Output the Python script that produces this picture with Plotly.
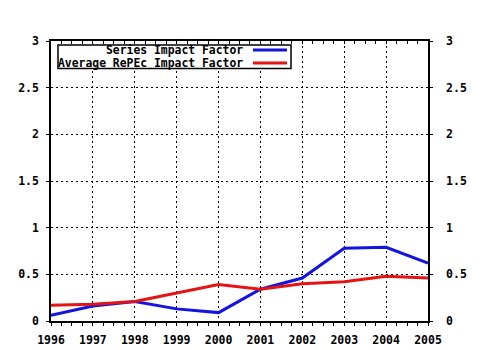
import plotly.graph_objects as go

years = [1996, 1997, 1998, 1999, 2000, 2001, 2002, 2003, 2004, 2005]
series_if = [0.06, 0.16, 0.21, 0.13, 0.09, 0.34, 0.46, 0.78, 0.79, 0.62]
average_if = [0.17, 0.18, 0.21, 0.30, 0.39, 0.34, 0.40, 0.42, 0.48, 0.46]
names = ["Series Impact Factor", "Average RePEc Impact Factor"]
colors = ["#1414e0", "#e41414"]

FONT = "DejaVu Sans Mono"
tf = dict(family=FONT, size=11.5, color="black", weight="bold")

fig = go.Figure()
for vals, nm, c in zip([series_if, average_if], names, colors):
    fig.add_trace(go.Scatter(x=years, y=vals, mode="lines", name=nm,
                             line=dict(color=c, width=3), showlegend=False))
# invisible trace to activate secondary axes
fig.add_trace(go.Scatter(x=years, y=series_if, xaxis="x2", yaxis="y2",
                         mode="lines", line=dict(width=0), opacity=0,
                         showlegend=False, hoverinfo="skip"))

grid = dict(showgrid=True, gridcolor="black", gridwidth=1, griddash="2px,3px")
fig.update_layout(
    width=480, height=350,
    margin=dict(l=51, r=52, t=41, b=29, autoexpand=False),
    paper_bgcolor="white", plot_bgcolor="white",
    xaxis=dict(range=[1996, 2005], dtick=1, tick0=1996, ticks="outside", ticklen=3,
               tickcolor="black", showline=True, linecolor="black", linewidth=1.5,
               tickfont=tf, zeroline=False, automargin=False, ticklabelstandoff=4,
               minor=dict(dtick=0.25, tick0=1996, ticks="outside", ticklen=3,
                          tickcolor="black", showgrid=False),
               **grid),
    xaxis2=dict(range=[1996, 2005], overlaying="x", side="top", dtick=1, tick0=1996,
                ticks="inside", ticklen=3, tickcolor="black", showticklabels=False,
                showline=True, linecolor="black", linewidth=1.5, showgrid=False,
                zeroline=False, automargin=False,
                minor=dict(dtick=0.25, tick0=1996, ticks="inside", ticklen=3,
                           tickcolor="black", showgrid=False)),
    yaxis=dict(range=[0, 3], dtick=0.5, tick0=0, ticks="outside", ticklen=3,
               tickcolor="black", showline=True, linecolor="black", linewidth=1.5,
               tickfont=tf, zeroline=False, automargin=False, ticklabelstandoff=5,
               **grid),
    yaxis2=dict(range=[0, 3], dtick=0.5, tick0=0, overlaying="y", side="right",
                ticks="outside", ticklen=3, tickcolor="black", showline=True,
                linecolor="black", linewidth=1.5, tickfont=tf, showgrid=False,
                zeroline=False, automargin=False, ticklabelstandoff=11),
)

# custom legend (text left, sample line right)
x0, x1 = (58 - 51) / 377, (291 - 51) / 377
y_top, y_bot = (321 - 45) / 280, (321 - 68.5) / 280
fig.add_shape(type="rect", xref="paper", yref="paper", x0=x0, x1=x1, y0=y_bot, y1=y_top,
              line=dict(color="black", width=1.5), fillcolor="white", layer="above")
ys = [(321 - 50) / 280, (321 - 63) / 280]
for nm, c, yy in zip(names, colors, ys):
    fig.add_shape(type="line", xref="paper", yref="paper",
                  x0=(253 - 51) / 377, x1=(287 - 51) / 377, y0=yy, y1=yy,
                  line=dict(color=c, width=3), layer="above")
    fig.add_annotation(xref="paper", yref="paper", x=(245 - 51) / 377, y=yy,
                       xanchor="right", yanchor="middle", text=nm, showarrow=False,
                       font=dict(family=FONT, size=11.4, color="black", weight="bold"))

fig.write_html("out.html")
